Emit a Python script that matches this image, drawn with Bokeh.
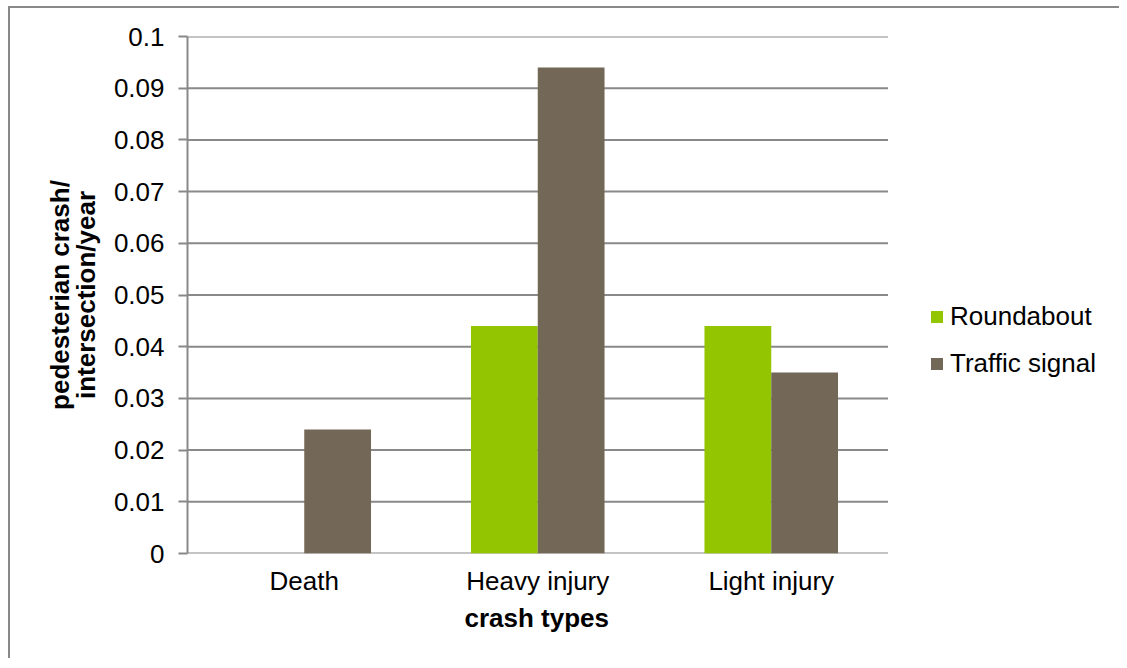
from bokeh.plotting import figure
from bokeh.models import ColumnDataSource, FixedTicker, Legend, LegendItem, FactorRange, Title
from bokeh.transform import dodge
from bokeh.embed import file_html
from bokeh.resources import INLINE

categories = ["Death", "Heavy injury", "Light injury"]
roundabout = [0.0, 0.044, 0.044]
traffic_signal = [0.024, 0.094, 0.035]
y_ticks = [0, 0.01, 0.02, 0.03, 0.04, 0.05, 0.06, 0.07, 0.08, 0.09, 0.1]
y_tick_labels = ["0", "0.01", "0.02", "0.03", "0.04", "0.05", "0.06", "0.07", "0.08", "0.09", "0.1"]

FONT = "Liberation Sans"
GRAY = "#898989"
GREEN = "#93C500"
BROWN = "#736857"

src = ColumnDataSource(data=dict(cat=categories, r=roundabout, t=traffic_signal))

# an extra blank factor on the right leaves room for the legend inside the frame
xr = FactorRange(factors=categories + [" "], range_padding=0)
p = figure(x_range=xr, y_range=(0, 0.1), width=1111, height=652,
           output_backend="svg", toolbar_location=None,
           min_border_left=177, min_border_right=0, min_border_top=28, min_border_bottom=107)
p.styles = {"border-top": "2px solid " + GRAY, "border-left": "2px solid " + GRAY,
            "margin-left": "8px", "margin-top": "6px"}
p.outline_line_color = None
p.background_fill_color = "white"
p.border_fill_color = "white"

# horizontal gridlines only across the three categories
n = len(categories)
grid_src = ColumnDataSource(data=dict(y=y_ticks, x0=[0] * len(y_ticks), x1=[n] * len(y_ticks)))
p.segment(x0="x0", x1="x1", y0="y", y1="y", source=grid_src, line_color=GRAY, line_width=2)

bw = 0.286
r1 = p.vbar(x=dodge("cat", -bw / 2, range=p.x_range), top="r", width=bw, source=src,
            fill_color=GREEN, line_color=None)
r2 = p.vbar(x=dodge("cat", bw / 2, range=p.x_range), top="t", width=bw, source=src,
            fill_color=BROWN, line_color=None)

p.xgrid.grid_line_color = None
p.ygrid.grid_line_color = None

p.yaxis.ticker = FixedTicker(ticks=y_ticks)
p.yaxis.major_label_overrides = {t: l for t, l in zip(y_ticks, y_tick_labels)}
p.yaxis.minor_tick_line_color = None
p.yaxis.major_tick_in = 0
p.yaxis.major_tick_out = 9
p.yaxis.major_tick_line_color = GRAY
p.yaxis.major_tick_line_width = 2
p.yaxis.axis_line_color = GRAY
p.yaxis.axis_line_width = 2
p.yaxis.major_label_text_font = FONT
p.yaxis.major_label_text_font_size = "26px"
p.yaxis.major_label_text_color = "black"
p.yaxis.major_label_standoff = 14
p.yaxis.axis_label = "pedesterian crash/\nintersection/year"
p.yaxis.axis_label_text_font = FONT
p.yaxis.axis_label_text_font_style = "bold"
p.yaxis.axis_label_text_font_size = "26px"
p.yaxis.axis_label_text_color = "black"
p.yaxis.axis_label_text_line_height = 0.85
p.yaxis.axis_label_standoff = 10

p.xaxis.major_tick_line_color = None
p.xaxis.minor_tick_line_color = None
p.xaxis.axis_line_color = None
p.xaxis.major_label_text_font = FONT
p.xaxis.major_label_text_font_size = "26px"
p.xaxis.major_label_text_color = "black"
p.xaxis.major_label_standoff = 6

# x axis title centred under the three categories (not the blank legend slot)
xtitle = Title(text="crash types", align="left", offset=277,
               text_font=FONT, text_font_size="26px", text_font_style="bold",
               text_color="black", standoff=4)
p.add_layout(xtitle, "below")

legend = Legend(items=[LegendItem(label="Roundabout", renderers=[r1]),
                       LegendItem(label="Traffic signal", renderers=[r2])],
                location=(742, 174), border_line_color=None, background_fill_alpha=0,
                padding=0, margin=0, spacing=16, glyph_width=15, glyph_height=15,
                label_height=30, label_standoff=6,
                label_text_font=FONT, label_text_font_size="26px", label_text_color="black")
p.add_layout(legend, "center")

open("out.html", "w").write(file_html(p, INLINE))
